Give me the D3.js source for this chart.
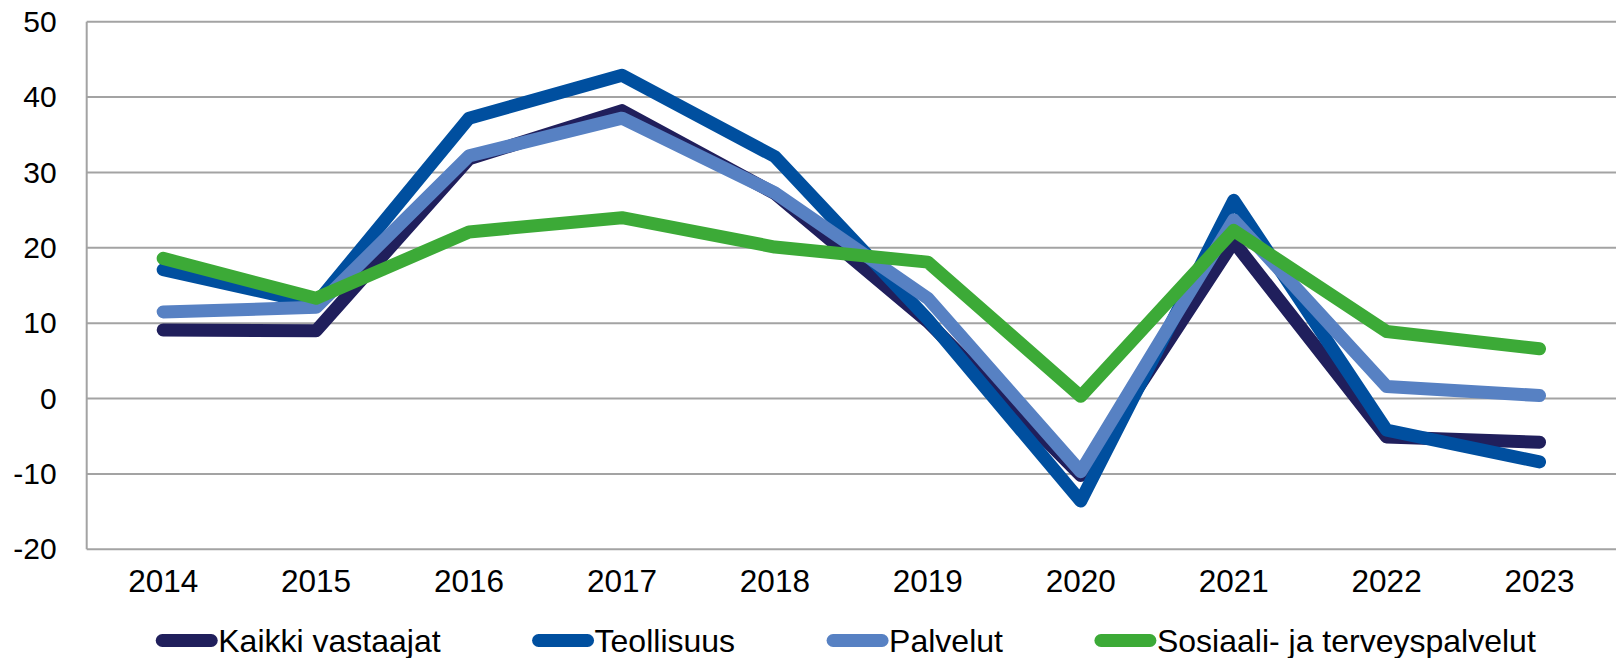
<!DOCTYPE html>
<html>
<head>
<meta charset="utf-8">
<script src="https://cdn.jsdelivr.net/npm/d3@7"></script>
<style>
  html, body { margin: 0; padding: 0; background: #fff; }
  svg { display: block; font-family: "Liberation Sans", Arial, sans-serif; }
</style>
</head>
<body>
<div id="chart"></div>
<script>
const years = ['2014', '2015', '2016', '2017', '2018', '2019', '2020', '2021', '2022', '2023']
const yTicks = [-20, -10, 0, 10, 20, 30, 40, 50]

const kaikki = [9.1, 9.0, 31.8, 38.2, 27.2, 10.2, -10.2, 20.8, -5.1, -5.8]
const teollisuus = [17.1, 12.6, 37.2, 42.9, 32.1, 10.5, -13.6, 26.3, -4.2, -8.4]
const palvelut = [11.5, 12.1, 32.2, 37.2, 27.3, 13.3, -9.7, 23.7, 1.6, 0.4]
const sosiaali = [18.6, 13.3, 22.1, 24.0, 20.1, 18.1, 0.3, 22.3, 8.9, 6.6]

const series = [
  { name: 'Kaikki vastaajat', values: kaikki, color: '#201f5c' },
  { name: 'Teollisuus', values: teollisuus, color: '#004f9f' },
  { name: 'Palvelut', values: palvelut, color: '#5781c3' },
  { name: 'Sosiaali- ja terveyspalvelut', values: sosiaali, color: '#3caa37' }
]

const W = 1616, H = 658
const margin = { top: 21.7, right: 0, bottom: 108.7, left: 86.7 }
const width = W - margin.left - margin.right
const height = H - margin.top - margin.bottom

const svg = d3.select('#chart')
  .append('svg')
  .attr('width', W)
  .attr('height', H)

const g = svg.append('g')
  .attr('transform', `translate(${margin.left}, ${margin.top})`)

let xScale = d3.scaleBand()
  .domain(years)
  .range([0, width])

let yScale = d3.scaleLinear()
  .domain([-20, 50])
  .range([height, 0])

// gridlines
g.append('g')
  .selectAll('line')
  .data(yTicks)
  .enter()
  .append('line')
  .attr('x1', 0)
  .attr('x2', width)
  .attr('y1', d => yScale(d))
  .attr('y2', d => yScale(d))
  .style('stroke', '#a3a3a3')
  .style('stroke-width', 2)

// left axis line
g.append('line')
  .attr('x1', 0).attr('x2', 0)
  .attr('y1', 0).attr('y2', height)
  .style('stroke', '#a3a3a3')
  .style('stroke-width', 2)

/* Y axis labels (plain hyphen for negatives, as in the source) */
let yAxis = d3.axisLeft(yScale)
  .tickValues(yTicks)
  .tickFormat(d => String(d))
  .tickSize(0)
  .tickPadding(30)
g.append('g')
  .call(yAxis)
  .call(a => a.select('.domain').remove())
  .selectAll('text')
  .style('font-size', '30px')
  .style('font-family', '"Liberation Sans", Arial, sans-serif')
  .style('fill', '#000')

/* X axis labels */
let xAxis = d3.axisBottom(xScale)
  .tickSize(0)
  .tickPadding(20)
g.append('g')
  .attr('transform', `translate(0, ${height})`)
  .call(xAxis)
  .call(a => a.select('.domain').remove())
  .selectAll('text')
  .style('font-size', '31.5px')
  .style('font-family', '"Liberation Sans", Arial, sans-serif')
  .style('fill', '#000')

// lines
let line = d3.line()
  .x((d, i) => xScale(years[i]) + xScale.bandwidth() / 2)
  .y(d => yScale(d))

g.selectAll('path.series')
  .data(series)
  .enter()
  .append('path')
  .attr('class', 'series')
  .attr('d', d => line(d.values))
  .style('fill', 'none')
  .style('stroke', d => d.color)
  .style('stroke-width', 13)
  .style('stroke-linecap', 'round')
  .style('stroke-linejoin', 'round')

// legend
const legend = svg.append('g')
const items = legend.selectAll('g')
  .data(series)
  .enter()
  .append('g')

items.append('line')
  .attr('x1', 6).attr('x2', 55)
  .attr('y1', 0).attr('y2', 0)
  .style('stroke', d => d.color)
  .style('stroke-width', 13)
  .style('stroke-linecap', 'round')

items.append('text')
  .attr('x', 62)
  .attr('y', 11)
  .style('font-size', '32px')
  .style('fill', '#000')
  .text(d => d.name)

const gap = 92
let widths = []
items.each(function () {
  widths.push(62 + d3.select(this).select('text').node().getComputedTextLength())
})
const total = d3.sum(widths) + gap * (widths.length - 1)
let xPos = 846 - total / 2
items.attr('transform', (d, i) => {
  const t = `translate(${xPos}, 640.5)`
  xPos += widths[i] + gap
  return t
})
</script>
</body>
</html>
